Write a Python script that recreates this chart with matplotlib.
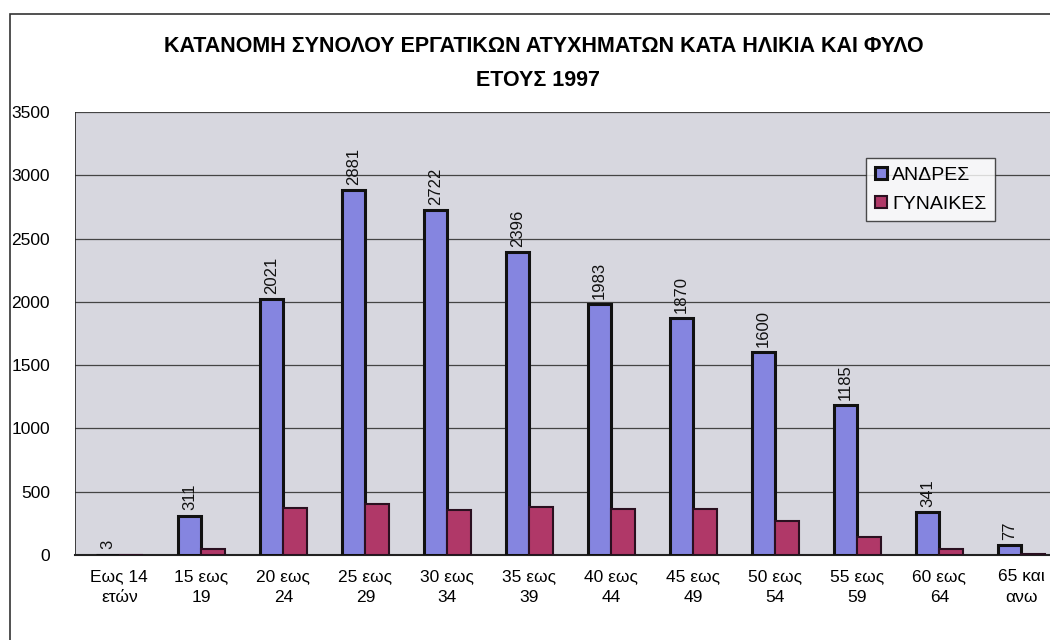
import numpy as np
import matplotlib.pyplot as plt
from matplotlib.patches import Rectangle

plt.rcParams['font.family'] = ['Liberation Sans', 'DejaVu Sans']

# categories and values
ilikies = ["Εως 14\nετών", "15 εως\n19", "20 εως\n24", "25 εως\n29", "30 εως\n34",
           "35 εως\n39", "40 εως\n44", "45 εως\n49", "50 εως\n54", "55 εως\n59",
           "60 εως\n64", "65 και\nανω"]
andres = [3, 311, 2021, 2881, 2722, 2396, 1983, 1870, 1600, 1185, 341, 77]
gynaikes = [0, 50, 370, 405, 355, 380, 360, 365, 265, 140, 45, 10]

x = np.arange(len(ilikies))
w = 0.29

fig = plt.figure(figsize=(10.5, 6.4), dpi=100)
fig.patch.set_facecolor("white")
ax = fig.add_axes([0.0715, 0.133, 0.9285, 0.692])
ax.set_facecolor("#d7d7df")

ax.bar(x - w / 2, andres, w, color="#8585e0", edgecolor="#111111", linewidth=2.2,
       label="ΑΝΔΡΕΣ", zorder=3)
ax.bar(x + w / 2, gynaikes, w, color="#b03868", edgecolor="#2a1020", linewidth=1.5,
       label="ΓΥΝΑΙΚΕΣ", zorder=3)

for xi, v in zip(x, andres):
    ax.text(xi - w / 2, v + 40, str(v), rotation=90, ha="center", va="bottom",
            fontsize=12, color="#111111", zorder=4)

ax.set_ylim(0, 3500)
ax.set_xlim(-0.54, 11.35)
ax.set_yticks(np.arange(0, 3501, 500))
ax.set_xticks(x)
ax.set_xticklabels(ilikies, fontsize=12.5, linespacing=1.5)
ax.tick_params(axis="y", labelsize=12.5, length=0, pad=18)
ax.tick_params(axis="x", length=0, pad=10)
ax.yaxis.grid(True, color="#444444", linewidth=0.9, zorder=0)
for s in ["top", "right", "left"]:
    ax.spines[s].set_visible(False)
ax.spines["bottom"].set_color("#222222")
ax.spines["bottom"].set_linewidth(1.5)
ax.axvline(-0.54, color="#222222", linewidth=1.2, zorder=2)

leg = ax.legend(loc="upper right", bbox_to_anchor=(0.944, 0.896), fontsize=14,
                frameon=True, fancybox=False, edgecolor="#222222",
                handlelength=0.6, handleheight=0.6, handletextpad=0.3,
                labelspacing=0.6, borderpad=0.45, borderaxespad=0)
leg.get_frame().set_linewidth(1.0)

titlos = ["ΚΑΤΑΝΟΜΗ ΣΥΝΟΛΟΥ ΕΡΓΑΤΙΚΩΝ ΑΤΥΧΗΜΑΤΩΝ ΚΑΤΑ ΗΛΙΚΙΑ ΚΑΙ ΦΥΛΟ", "ΕΤΟΥΣ 1997"]
fig.text(0.518, 0.928, titlos[0], ha="center", va="center", fontsize=15.5,
         fontweight="bold")
fig.text(0.512, 0.875, titlos[1], ha="center", va="center", fontsize=15.5,
         fontweight="bold")

# outer chart frame
fig.patches.append(Rectangle((0.0095, -0.1), 1.1, 1.078, transform=fig.transFigure,
                             fill=False, edgecolor="#333333", linewidth=1.2))

fig.savefig("out.png", dpi=100)
